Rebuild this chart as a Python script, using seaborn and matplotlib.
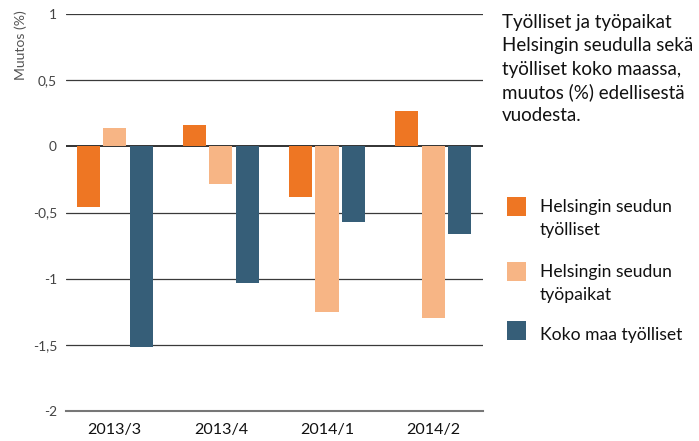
import matplotlib
matplotlib.use("Agg")
import matplotlib.pyplot as plt
from matplotlib.patches import Rectangle
import seaborn as sns
import pandas as pd

categories = ["2013/3", "2013/4", "2014/1", "2014/2"]
series_names = ["Helsingin seudun\ntyölliset", "Helsingin seudun\ntyöpaikat", "Koko maa työlliset"]
helsinki_employed = [-0.46, 0.16, -0.385, 0.265]
helsinki_jobs = [0.14, -0.285, -1.25, -1.30]
finland_employed = [-1.52, -1.03, -0.57, -0.66]
ytick_values = [-2, -1.5, -1, -0.5, 0, 0.5, 1]
ytick_labels = ["-2", "-1,5", "-1", "-0,5", "0", "0,5", "1"]
colors = ["#EE7623", "#F7B585", "#365E78"]
title_lines = ["Työlliset ja työpaikat", "Helsingin seudulla sekä",
               "työlliset koko maassa,", "muutos (%) edellisestä", "vuodesta."]

rows = []
for name, vals in zip(series_names, [helsinki_employed, helsinki_jobs, finland_employed]):
    for c, v in zip(categories, vals):
        rows.append({"cat": c, "series": name, "value": v})
df = pd.DataFrame(rows)

sns.set_style("white")
plt.rcParams["font.family"] = ["Lato", "DejaVu Sans"]

W, H = 699, 441
fig = plt.figure(figsize=(W / 100, H / 100), dpi=100)
renderer = fig.canvas.get_renderer()


def fit_size(s, target_px, base=10, rotation=0):
    t = fig.text(0, 0, s, fontsize=base, rotation=rotation)
    bb = t.get_window_extent(renderer)
    size = bb.height if rotation == 90 else bb.width
    t.remove()
    return base * target_px / size


fx = lambda px: px / W
fy = lambda py: 1 - py / H

ax = fig.add_axes([fx(66), fy(411), (483 - 66) / W, (411 - 14) / H])

sns.barplot(data=df, x="cat", y="value", hue="series", order=categories,
            hue_order=series_names, palette=colors, width=0.75, gap=0.13,
            saturation=1, ax=ax, legend=False, linewidth=0, zorder=3)

ax.set_ylim(-2, 1)
ax.set_xlim(-0.46, 3.47)
ax.set_yticks(ytick_values)
ax.set_yticklabels(ytick_labels)
for y in ytick_values:
    if y == -2:
        continue
    ax.axhline(y, color="#222222" if y == 0 else "#3a3a3a", lw=1.3 if y == 0 else 0.9, zorder=1)
for s in ["top", "right", "left"]:
    ax.spines[s].set_visible(False)
ax.spines["bottom"].set_color("#777777")
ax.spines["bottom"].set_linewidth(1.5)

xsize = fit_size("2013/3", 54)
ysize = fit_size("0,5", 19)
ax.tick_params(axis="y", length=0, pad=6.5, labelsize=ysize, labelcolor="#444444")
ax.tick_params(axis="x", length=0, pad=8.5, labelsize=xsize, labelcolor="#111111")
ax.set_xlabel("")
ax.set_ylabel("")

ylab_size = fit_size("Muutos (%)", 70, rotation=90)
fig.text(fx(21), fy(10), "Muutos (%)", rotation=90, ha="center", va="top",
         fontsize=ylab_size, color="#555555")

tsize = fit_size("Helsingin seudulla sekä", 190)
for i, line in enumerate(title_lines):
    fig.text(fx(502), fy(28 + 23.3 * i), line, ha="left", va="baseline",
             fontsize=tsize, color="#111111")

# legend
lsize = fit_size("Koko maa työlliset", 142)
swatch_tops = [197, 262, 321]
label_baselines = [[212, 235], [277, 300], [340]]
for col, top, name, bases in zip(colors, swatch_tops, series_names, label_baselines):
    fig.patches.append(Rectangle((fx(507), fy(top + 19)), 19 / W, 19 / H,
                                 transform=fig.transFigure, facecolor=col,
                                 edgecolor="none"))
    for ln, b in zip(name.split("\n"), bases):
        fig.text(fx(540), fy(b), ln, ha="left", va="baseline", fontsize=lsize,
                 color="#111111")

fig.savefig("out.png", dpi=100)
